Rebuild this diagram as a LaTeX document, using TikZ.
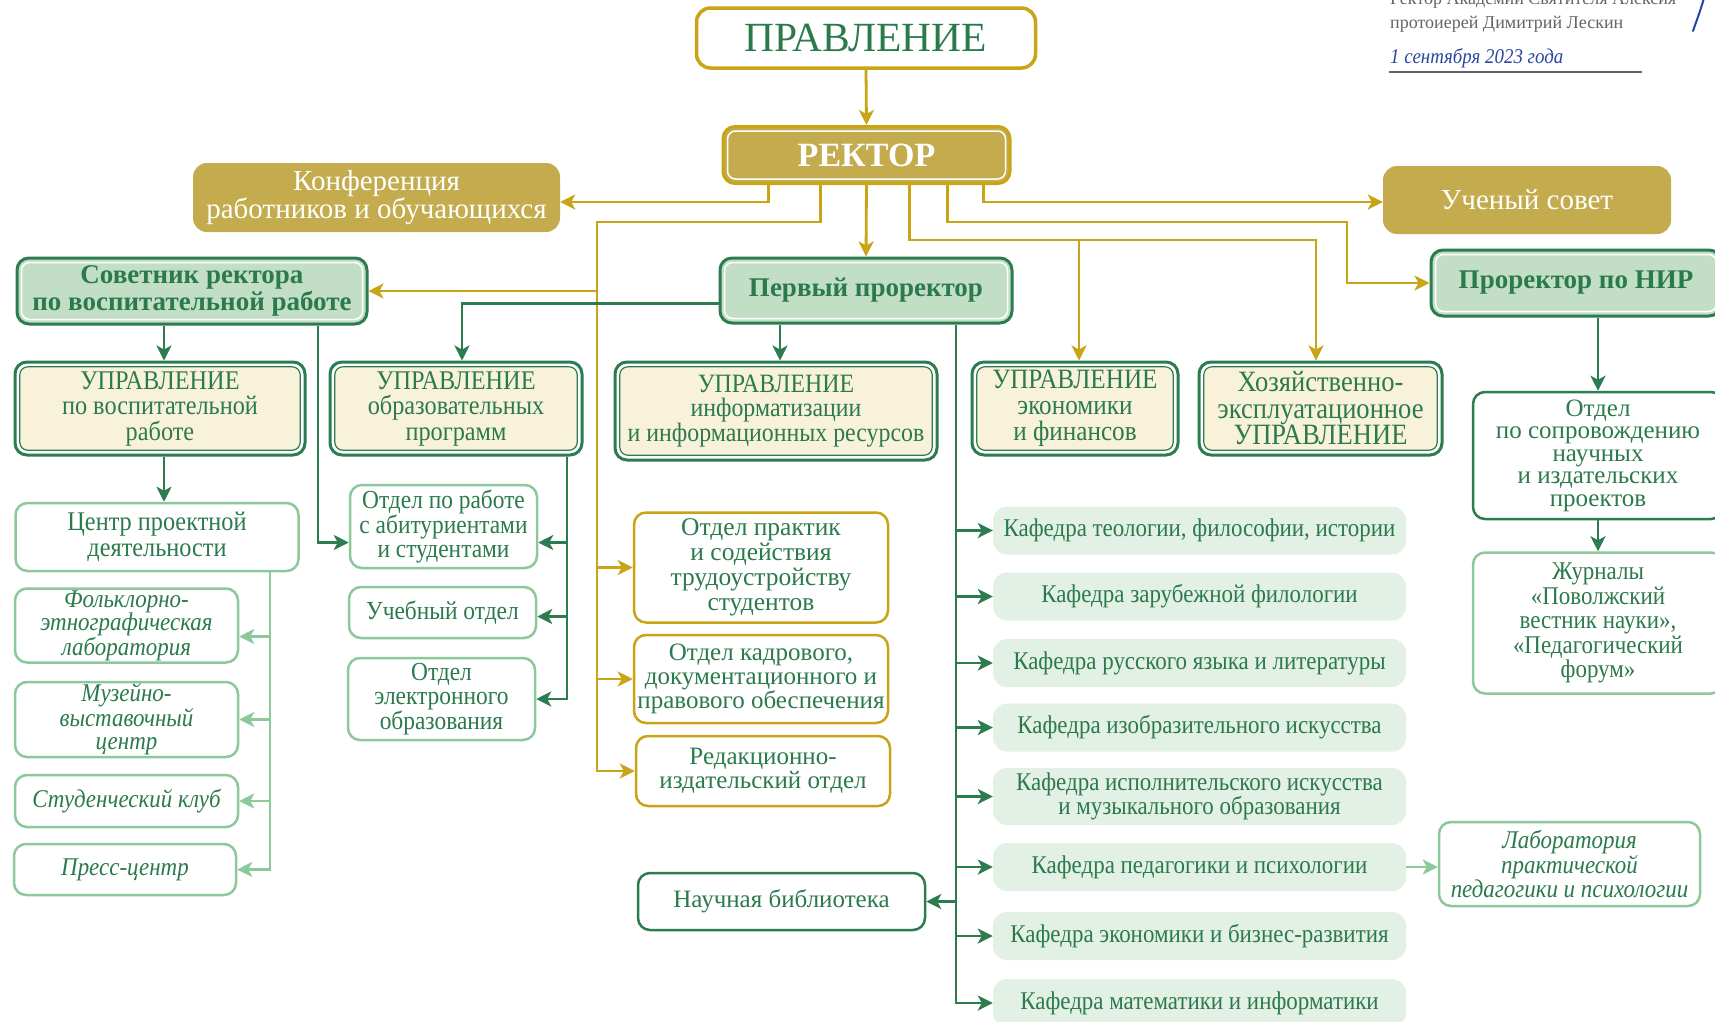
\documentclass[tikz,border=0pt]{standalone}
\usepackage{fontspec}
\setmainfont{Liberation Serif}
\newfontfamily\nf[FakeStretch=0.9]{Liberation Serif}
\usetikzlibrary{arrows.meta}
\definecolor{gold}{RGB}{201,164,22}
\definecolor{goldfill}{RGB}{196,172,78}
\definecolor{dgreen}{RGB}{44,124,80}
\definecolor{lgfill}{RGB}{194,223,198}
\definecolor{cream}{RGB}{249,242,219}
\definecolor{kaf}{RGB}{227,240,229}
\definecolor{lgborder}{RGB}{141,200,154}
\definecolor{gtext}{RGB}{43,122,76}
\definecolor{graytext}{RGB}{100,100,100}
\definecolor{sigblue}{RGB}{40,70,160}
\tikzset{
  wh/.style 2 args={minimum width=#1pt, minimum height=#2pt},
  nd/.style={rounded corners=12pt, inner sep=0pt, align=center, text=gtext},
  inwhite/.style={path picture={\draw[white, line width=1.5pt, rounded corners=8pt]
     ([shift={(4.5pt,4.5pt)}]path picture bounding box.south west) rectangle
     ([shift={(-4.5pt,-4.5pt)}]path picture bounding box.north east);}},
  incream/.style={path picture={\draw[dgreen, line width=1.2pt, fill=cream, rounded corners=8pt]
     ([shift={(4.8pt,4.8pt)}]path picture bounding box.south west) rectangle
     ([shift={(-4.8pt,-4.8pt)}]path picture bounding box.north east);}},
  pravbox/.style={nd, draw=gold, line width=3.5pt, fill=white, rounded corners=14pt},
  rectbox/.style={nd, draw=gold, line width=3pt, fill=goldfill, text=white, inwhite},
  goldbox/.style={nd, fill=goldfill, text=white, rounded corners=14pt},
  pbox/.style={nd, draw=dgreen, line width=3pt, fill=lgfill, inwhite},
  ubox/.style={nd, draw=dgreen, line width=3pt, fill=white, incream},
  wbox/.style={nd, draw=dgreen, line width=2.5pt, fill=white},
  lbox/.style={nd, draw=lgborder, line width=2.5pt, fill=white},
  ybox/.style={nd, draw=gold, line width=2.5pt, fill=white},
  kbox/.style={nd, fill=kaf, rounded corners=14pt, minimum width=413pt},
  tip/.style={-{Stealth[length=15pt,width=15pt,inset=4pt]}},
  yarr/.style={draw=gold, line width=2.8pt, tip},
  garr/.style={draw=dgreen, line width=2.8pt, tip},
  lgarr/.style={draw=lgborder, line width=2.5pt, tip},
  fbold/.style={font={\bfseries\fontsize{27}{27}\selectfont}},
  fnar/.style={font={\nf\fontsize{27}{25.5}\selectfont}},
  fit/.style={font={\nf\itshape\fontsize{25.5}{23.5}\selectfont}},
  fkaf/.style={font={\nf\fontsize{25.5}{24}\selectfont}},
}
\begin{document}
\begin{tikzpicture}[x=1pt,y=-1pt]
\fill[white] (0,0) rectangle (1715,1021);
\useasboundingbox (0,0) rectangle (1715,1021);

% header text top right
\node[anchor=base west, inner sep=0pt, text=graytext, font={\fontsize{18}{20}\selectfont}] (h1) at (1390,4) {Ректор Академии Святителя Алексия};
\node[anchor=base west, inner sep=0pt, text=graytext, font={\fontsize{18}{20}\selectfont}] (h2) at (1390,28) {протоиерей Димитрий Лескин};
\node[anchor=base west, inner sep=0pt, text=sigblue, font={\nf\itshape\fontsize{21}{21}\selectfont}] (h3) at (1390,63) {1 сентября 2023 года};
\draw[graytext, line width=1.3pt] (1389,72) -- (1642,72);
\draw[sigblue, line width=2pt, line cap=round] (1704,-2) .. controls (1700,12) and (1696,22) .. (1693,31);

% top level
\node[pravbox, wh={339}{60}, font={\fontsize{41.5}{41.5}\selectfont}] (prav) at (866,38) {ПРАВЛЕНИЕ};
\node[rectbox, wh={287}{57}, font={\bfseries\fontsize{34}{34}\selectfont}] (rector) at (866.5,155) {РЕКТОР};
\node[goldbox, wh={367}{69}, font={\fontsize{29}{28}\selectfont}] (konf) at (376.5,197.5) {Конференция\\работников и обучающихся};
\node[goldbox, wh={288}{68}, font={\fontsize{29}{28}\selectfont}] (uch) at (1527,200) {Ученый совет};

% second row
\node[pbox, wh={350}{66}, fbold] (sov) at (192,291) {Советник ректора\\по воспитательной работе};
\node[pbox, wh={292}{65}, fbold] (first) at (866,290.5) {Первый проректор};
\node[pbox, wh={290}{66}, fbold] (nir) at (1576,283) {Проректор по НИР};

% third row
\node[ubox, wh={290}{93}, fnar] (vosp) at (160,408.5) {УПРАВЛЕНИЕ\\по воспитательной\\работе};
\node[ubox, wh={252}{93}, fnar] (obr) at (456,408.5) {УПРАВЛЕНИЕ\\образовательных\\программ};
\node[ubox, wh={322}{98}, font={\nf\fontsize{26.5}{24.5}\selectfont}] (inf) at (776,411) {УПРАВЛЕНИЕ\\информатизации\\и информационных ресурсов};
\node[ubox, wh={206}{93}, font={\nf\fontsize{28}{26}\selectfont}] (econ) at (1075,408.5) {УПРАВЛЕНИЕ\\экономики\\и финансов};
\node[ubox, wh={243}{93}, font={\nf\fontsize{29.5}{26.5}\selectfont}] (hoz) at (1320.5,408.5) {Хозяйственно-\\эксплуатационное\\УПРАВЛЕНИЕ};

% right column
\node[wbox, wh={250}{127}, font={\fontsize{25}{22.5}\selectfont}] (sopr) at (1598,455.5) {Отдел\\по сопровождению\\научных\\и издательских\\проектов};
\node[lbox, wh={250}{141}, font={\nf\fontsize{25.5}{24.5}\selectfont}] (jour) at (1598,623) {Журналы\\«Поволжский\\вестник науки»,\\«Педагогический\\форум»};

% left column
\node[lbox, wh={283}{68}, fnar] (centr) at (157,537) {Центр проектной\\деятельности};
\node[lbox, wh={223}{74}, fit] (folk) at (126.5,625.5) {Фольклорно-\\этнографическая\\лаборатория};
\node[lbox, wh={223}{75}, fit] (muz) at (126.5,719.5) {Музейно-\\выставочный\\центр};
\node[lbox, wh={223}{52}, fit] (stud) at (126.5,801) {Студенческий клуб};
\node[lbox, wh={222}{51}, fit] (press) at (125,869.5) {Пресс-центр};

\node[lbox, wh={187}{83}, font={\nf\fontsize{26}{24}\selectfont}] (abit) at (443.5,526.5) {Отдел по работе\\с абитуриентами\\и студентами};
\node[lbox, wh={187}{51}, font={\nf\fontsize{26}{24}\selectfont}] (ucheb) at (442.5,612.5) {Учебный отдел};
\node[lbox, wh={187}{82}, font={\nf\fontsize{26}{24}\selectfont}] (elek) at (441.5,699) {Отдел\\электронного\\образования};

% middle
\node[ybox, wh={254}{110}, font={\fontsize{25.5}{25}\selectfont}] (prak) at (761,567.5) {Отдел практик\\и содействия\\трудоустройству\\студентов};
\node[ybox, wh={254}{88}, font={\fontsize{25}{24}\selectfont}] (kadr) at (761,679) {Отдел кадрового,\\документационного и\\правового обеспечения};
\node[ybox, wh={254}{70}, font={\fontsize{25}{24}\selectfont}] (red) at (763,771) {Редакционно-\\издательский отдел};
\node[wbox, wh={287}{57}, font={\fontsize{25}{24}\selectfont}] (bib) at (781.5,901.5) {Научная библиотека};

% kafedras
\node[kbox, minimum height=48pt, fkaf] (k1) at (1199.5,530.5) {Кафедра теологии, философии, истории};
\node[kbox, minimum height=48pt, fkaf] (k2) at (1199.5,596.5) {Кафедра зарубежной филологии};
\node[kbox, minimum height=48pt, fkaf] (k3) at (1199.5,663) {Кафедра русского языка и литературы};
\node[kbox, minimum height=48pt, fkaf] (k4) at (1199.5,727.5) {Кафедра изобразительного искусства};
\node[kbox, minimum height=57pt, fkaf] (k5) at (1199.5,796.5) {Кафедра исполнительского искусства\\и музыкального образования};
\node[kbox, minimum height=48pt, fkaf] (k6) at (1199.5,867) {Кафедра педагогики и психологии};
\node[kbox, minimum height=48pt, fkaf] (k7) at (1199.5,936) {Кафедра экономики и бизнес-развития};
\node[kbox, minimum height=48pt, fkaf] (k8) at (1199.5,1003) {Кафедра математики и информатики};
\node[lbox, wh={261}{84}, fit] (lab) at (1569.5,864) {Лаборатория\\практической\\педагогики и психологии};

% yellow connectors
\draw[yarr] (prav.south) -- (rector.north);
\draw[yarr] ([xshift=-98pt]rector.south) |- (konf.east |- 0,202);
\coordinate (yv) at (597,222);
\draw[yarr] ([xshift=-46pt]rector.south) |- (yv) |- (red.west);
\draw[yarr] (yv |- sov.east) -- (sov.east);
\draw[yarr] (yv |- prak.west) -- (prak.west);
\draw[yarr] (yv |- kadr.west) -- (kadr.west);
\draw[yarr] (rector.south) -- (first.north);
\coordinate (hozT) at ([xshift=-4.5pt]hoz.north);
\coordinate (econT) at ([xshift=4pt]econ.north);
\draw[yarr] ([xshift=43pt]rector.south) |- (hozT |- 0,240) -- (hozT);
\draw[yarr] (econT |- 0,240) -- (econT);
\draw[yarr] ([xshift=81pt]rector.south) |- (1347,222) |- (nir.west);
\draw[yarr] ([xshift=117pt]rector.south) |- (uch.west |- 0,202);

% dark green connectors
\coordinate (obrT) at ([xshift=6pt]obr.north);
\coordinate (infT) at ([xshift=4pt]inf.north);
\coordinate (vospT) at ([xshift=4pt]vosp.north);
\draw[garr] ([yshift=-13pt]first.west) -| (obrT);
\draw[garr] (first.south -| infT) -- (infT);
\coordinate (gv) at ([xshift=90pt]first.south);
\draw[garr] (gv) |- (k8.west);
\foreach \k in {k1,k2,k3,k4,k5,k6,k7} { \draw[garr] (gv |- \k.west) -- (\k.west); }
\draw[garr] (gv |- bib.east) -- (bib.east);
\draw[garr] (sov.south -| vospT) -- (vospT);
\draw[garr] ([xshift=126pt]sov.south) |- ([yshift=-16pt]abit.west);
\coordinate (ov) at ([xshift=111pt]obr.south);
\coordinate (abitR) at ([yshift=-16pt]abit.east);
\coordinate (uchebR) at ([yshift=-4pt]ucheb.east);
\draw[garr] (ov) |- (elek.east);
\draw[garr] (ov |- abitR) -- (abitR);
\draw[garr] (ov |- uchebR) -- (uchebR);
\draw[garr] (vosp.south -| vospT) -- (centr.north -| vospT);
\draw[garr] (nir.south -| sopr.north) -- (sopr.north);
\draw[garr] (sopr.south) -- (jour.north);

% light green connectors
\coordinate (cv) at ([xshift=113pt]centr.south);
\coordinate (folkR) at ([yshift=-11pt]folk.east);
\draw[lgarr] (cv) |- (press.east);
\draw[lgarr] (cv |- folkR) -- (folkR);
\draw[lgarr] (cv |- muz.east) -- (muz.east);
\draw[lgarr] (cv |- stud.east) -- (stud.east);
\draw[lgarr] (k6.east) -- (k6.east -| lab.west);
\end{tikzpicture}
\end{document}
